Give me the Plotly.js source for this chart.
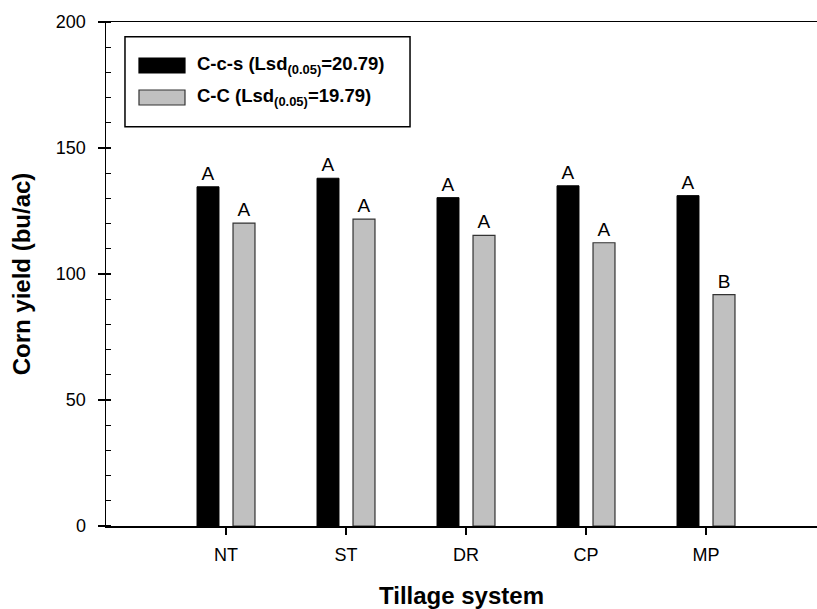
<!DOCTYPE html>
<html>
<head>
<meta charset="utf-8">
<script src="https://cdn.plot.ly/plotly-3.0.1.min.js"></script>
<style>html,body{margin:0;padding:0;background:#fff;}#chart{width:817px;height:609px;}</style>
</head>
<body>
<div id="chart"></div>
<script>
// ---- data ----
const categories = ["NT", "ST", "DR", "CP", "MP"];
const seriesNames = ["C-c-s (Lsd<sub>(0.05)</sub>=20.79)", "C-C (Lsd<sub>(0.05)</sub>=19.79)"];
const ccsYield = [134.6, 138.0, 130.3, 135.0, 131.1];
const ccYield = [120.2, 121.8, 115.3, 112.4, 91.8];
const ccsLetters = ["A", "A", "A", "A", "A"];
const ccLetters = ["A", "A", "A", "A", "B"];
const yTickVals = [0, 50, 100, 150, 200];

const FONT = "Liberation Sans, Arial, sans-serif";

const traces = [
  {
    type: "bar", x: categories, y: ccsYield, name: seriesNames[0],
    text: ccsLetters, textposition: "outside", constraintext: "none", cliponaxis: false,
    textfont: {family: FONT, size: 19, color: "#000"},
    marker: {color: "#000000", line: {color: "#000000", width: 1}},
    hoverinfo: "x+y", showlegend: false
  },
  {
    type: "bar", x: categories, y: ccYield, name: seriesNames[1],
    text: ccLetters, textposition: "outside", constraintext: "none", cliponaxis: false,
    textfont: {family: FONT, size: 19, color: "#000"},
    marker: {color: "#c0c0c0", line: {color: "#333333", width: 1.2}},
    hoverinfo: "x+y", showlegend: false
  }
];

// legend geometry (paper coords)
const lg = {x0: 0.0267, x1: 0.4276, y0: 0.7923, y1: 0.9708};
const sw = [{y0: 0.8988, y1: 0.9286, ty: 0.9137, fill: "#000000", line: "#000000"},
            {y0: 0.8353, y1: 0.8651, ty: 0.8502, fill: "#c0c0c0", line: "#333333"}];

const shapes = [
  {type: "rect", xref: "paper", yref: "paper", x0: lg.x0, x1: lg.x1, y0: lg.y0, y1: lg.y1,
   line: {color: "#000", width: 1.5}, fillcolor: "rgba(255,255,255,1)"}
];
const annotations = [];
sw.forEach((s, i) => {
  shapes.push({type: "rect", xref: "paper", yref: "paper", x0: 0.0464, x1: 0.1111, y0: s.y0, y1: s.y1,
    line: {color: s.line, width: 1.2}, fillcolor: s.fill});
  annotations.push({xref: "paper", yref: "paper", x: 0.1252, y: s.ty, xanchor: "left", yanchor: "middle",
    text: "<b>" + seriesNames[i] + "</b>", showarrow: false,
    font: {family: FONT, size: 18.5, color: "#000"}});
});

const layout = {
  width: 817, height: 609,
  margin: {l: 106, r: 0, t: 22, b: 83},
  paper_bgcolor: "#fff", plot_bgcolor: "#fff",
  barmode: "group", bargap: 0.4, bargroupgap: 0.39,
  showlegend: false,
  font: {family: FONT, color: "#000"},
  xaxis: {
    type: "category", range: [-1, 4.925],
    showline: true, linecolor: "#000", linewidth: 1.5, mirror: true,
    ticks: "outside", ticklen: 7, tickwidth: 1.2, tickcolor: "#000",
    showgrid: false, zeroline: false,
    tickfont: {family: FONT, size: 18, color: "#000"},
    ticklabelstandoff: 5,
    title: {text: "<b>Tillage system</b>", font: {family: FONT, size: 24, color: "#000"}, standoff: 26},
    automargin: false
  },
  yaxis: {
    range: [0, 200], tickvals: yTickVals,
    showline: true, linecolor: "#000", linewidth: 1.5, mirror: false,
    ticks: "outside", ticklen: 7, tickwidth: 1.2, tickcolor: "#000",
    minor: {ticks: "inside", dtick: 10, ticklen: 5, tickwidth: 1.2, tickcolor: "#000", showgrid: false},
    showgrid: false, zeroline: false,
    tickfont: {family: FONT, size: 18, color: "#000"},
    ticklabelstandoff: 8,
    title: {text: "<b>Corn yield (bu/ac)</b>", font: {family: FONT, size: 24, color: "#000"}, standoff: 18},
    automargin: false
  },
  shapes: shapes,
  annotations: annotations
};

Plotly.newPlot("chart", traces, layout, {displayModeBar: false, staticPlot: true});
</script>
</body>
</html>
